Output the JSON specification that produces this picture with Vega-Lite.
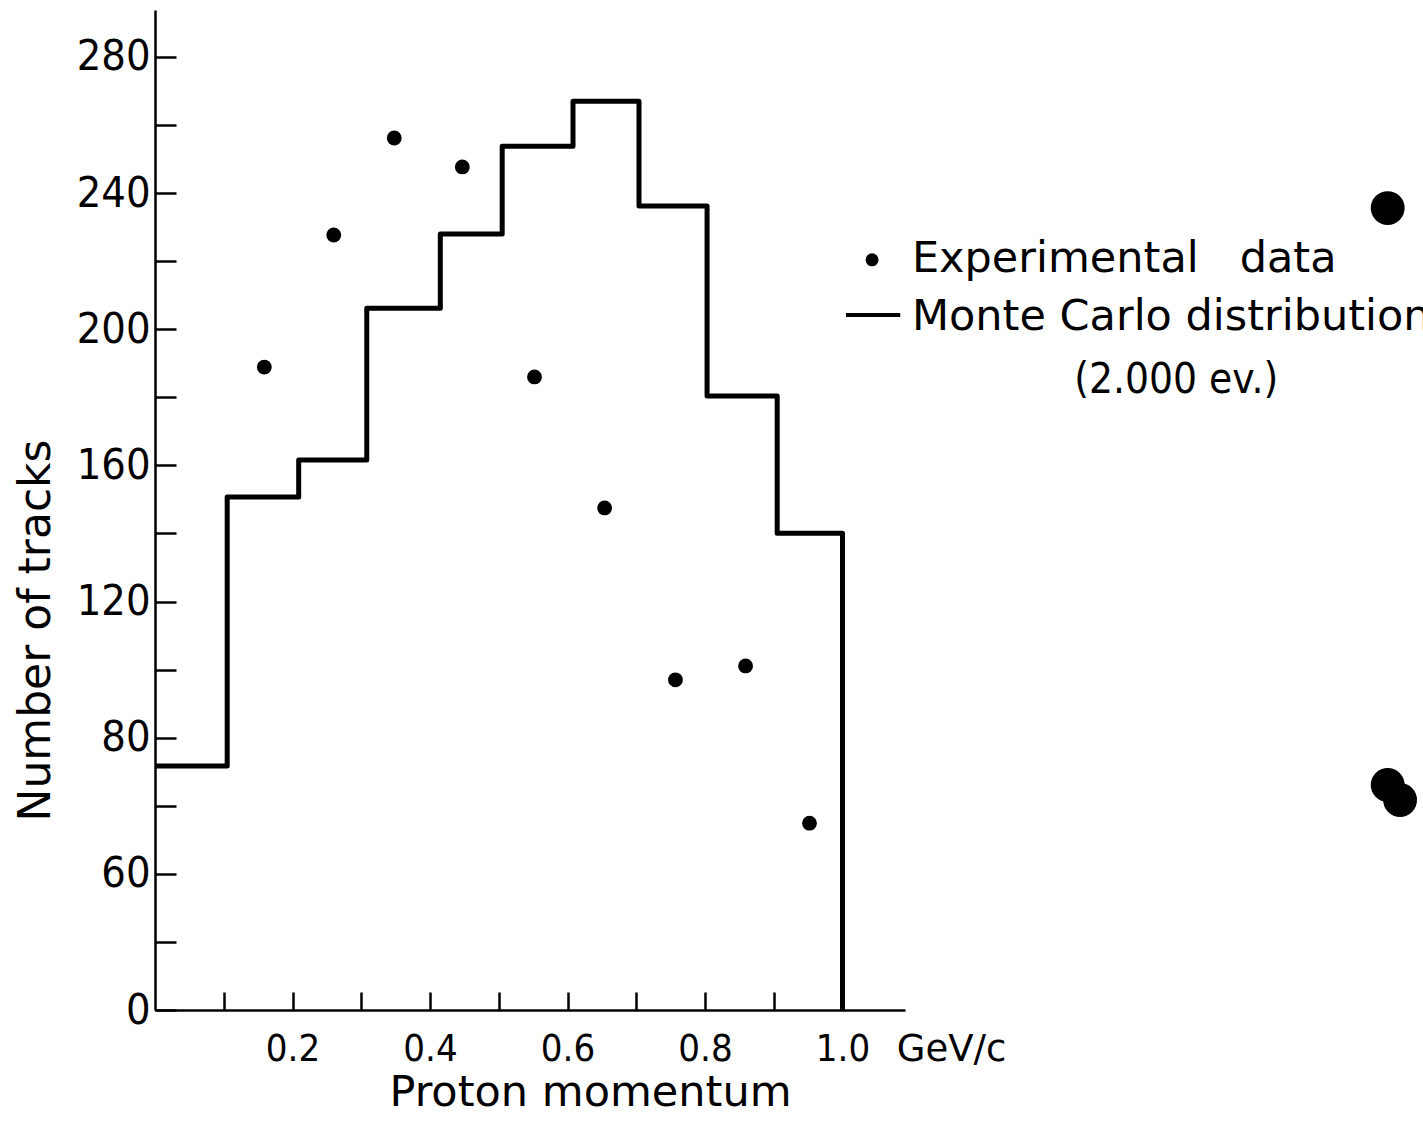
{
  "$schema": "https://vega.github.io/schema/vega-lite/v6.json",
  "autosize": {"type": "none"},
  "padding": {"left": 155, "top": 10, "right": 518, "bottom": 125},
  "width": 750,
  "height": 1000,
  "background": "white",
  "config": {
    "view": {"stroke": null},
    "axis": {
      "domainColor": "black", "domainWidth": 2.5,
      "tickColor": "black", "tickWidth": 2.5,
      "labelColor": "black", "titleColor": "black",
      "grid": false, "labelOverlap": false, "labelFlush": false,
      "titleFontWeight": "normal", "titleFont": "DejaVu Sans",
      "labelFont": "DejaVu Sans Condensed"
    }
  },
  "datasets": {
    "hist": [
      {"x": 0.0, "y": 71.7},
      {"x": 0.105, "y": 150.7},
      {"x": 0.209, "y": 161.6},
      {"x": 0.308, "y": 206.2},
      {"x": 0.415, "y": 228.0},
      {"x": 0.505, "y": 253.8},
      {"x": 0.608, "y": 267.0},
      {"x": 0.704, "y": 236.2},
      {"x": 0.803, "y": 180.4},
      {"x": 0.905, "y": 140.1},
      {"x": 1.0, "y": 0}
    ],
    "exp": [
      {"x": 0.159, "y": 188.9},
      {"x": 0.260, "y": 227.7},
      {"x": 0.348, "y": 256.2},
      {"x": 0.447, "y": 247.7},
      {"x": 0.552, "y": 186.0},
      {"x": 0.654, "y": 147.5},
      {"x": 0.757, "y": 97.0},
      {"x": 0.859, "y": 101.1},
      {"x": 0.952, "y": 54.9}
    ],
    "notes": [
      {"x": 1.101, "y": 216.8, "text": "Experimental\u00a0\u00a0\u00a0data"},
      {"x": 1.101, "y": 199.8, "text": "Monte Carlo distribution"}
    ],
    "blobs": [
      {"x": 1.793, "y": 235.6},
      {"x": 1.793, "y": 66.1},
      {"x": 1.811, "y": 61.7}
    ]
  },
  "layer": [
    {
      "data": {"name": "hist"},
      "mark": {"type": "line", "interpolate": "step-after", "color": "black", "strokeWidth": 5, "strokeJoin": "round"},
      "encoding": {
        "x": {
          "field": "x", "type": "quantitative",
          "scale": {"domain": [0, 1.0909], "nice": false, "zero": false},
          "axis": {
            "title": "Proton momentum",
            "values": [0.1, 0.2, 0.3, 0.4, 0.5, 0.6, 0.7, 0.8, 0.9, 1.0],
            "labelExpr": "round(datum.value*10) % 2 == 0 ? format(datum.value, '.1f') : ''",
            "tickSize": -18,
            "labelFontSize": 38,
            "labelPadding": 38,
            "titleFontSize": 43,
            "titlePadding": 3,
            "titleX": 435
          }
        },
        "y": {
          "field": "y", "type": "quantitative",
          "scale": {"domain": [0, 293.8], "nice": false},
          "axis": {
            "title": "Number of tracks",
            "values": [0, 20, 40, 60, 80, 100, 120, 140, 160, 180, 200, 220, 240, 260, 280],
            "labelExpr": "datum.value % 40 == 0 ? (datum.value == 40 ? '60' : format(datum.value, 'd')) : ''",
            "tickSize": -21,
            "labelFontSize": 43,
            "labelPadding": 26,
            "titleFontSize": 44,
            "titlePadding": 18,
            "titleY": 620
          }
        }
      }
    },
    {
      "data": {"name": "exp"},
      "mark": {"type": "circle", "color": "black", "opacity": 1, "size": 220},
      "encoding": {
        "x": {"field": "x", "type": "quantitative"},
        "y": {"field": "y", "type": "quantitative"}
      }
    },
    {
      "data": {"values": [{"x": 1.043, "y": 220.4}]},
      "mark": {"type": "circle", "color": "black", "opacity": 1, "size": 170},
      "encoding": {
        "x": {"field": "x", "type": "quantitative"},
        "y": {"field": "y", "type": "quantitative"}
      }
    },
    {
      "data": {"values": [{"x": 1.005, "x2": 1.084, "y": 204.2}]},
      "mark": {"type": "rule", "color": "black", "strokeWidth": 4},
      "encoding": {
        "x": {"field": "x", "type": "quantitative"},
        "x2": {"field": "x2"},
        "y": {"field": "y", "type": "quantitative"}
      }
    },
    {
      "data": {"name": "notes"},
      "mark": {"type": "text", "align": "left", "baseline": "alphabetic", "font": "DejaVu Sans", "fontSize": 43, "color": "black"},
      "encoding": {
        "x": {"field": "x", "type": "quantitative"},
        "y": {"field": "y", "type": "quantitative"},
        "text": {"field": "text"}
      }
    },
    {
      "data": {"values": [{"x": 1.337, "y": 181.3, "text": "(2.000 ev.)"}]},
      "mark": {"type": "text", "align": "left", "baseline": "alphabetic", "font": "DejaVu Sans Condensed", "fontSize": 42, "color": "black"},
      "encoding": {
        "x": {"field": "x", "type": "quantitative"},
        "y": {"field": "y", "type": "quantitative"},
        "text": {"field": "text"}
      }
    },
    {
      "data": {"values": [{"x": 1.079, "y": 0, "text": "GeV/c"}]},
      "mark": {"type": "text", "align": "left", "baseline": "top", "dy": 22, "font": "DejaVu Sans", "fontSize": 37, "color": "black"},
      "encoding": {
        "x": {"field": "x", "type": "quantitative"},
        "y": {"field": "y", "type": "quantitative"},
        "text": {"field": "text"}
      }
    },
    {
      "data": {"name": "blobs"},
      "mark": {"type": "circle", "color": "black", "opacity": 1, "size": 1150},
      "encoding": {
        "x": {"field": "x", "type": "quantitative"},
        "y": {"field": "y", "type": "quantitative"}
      }
    }
  ]
}
